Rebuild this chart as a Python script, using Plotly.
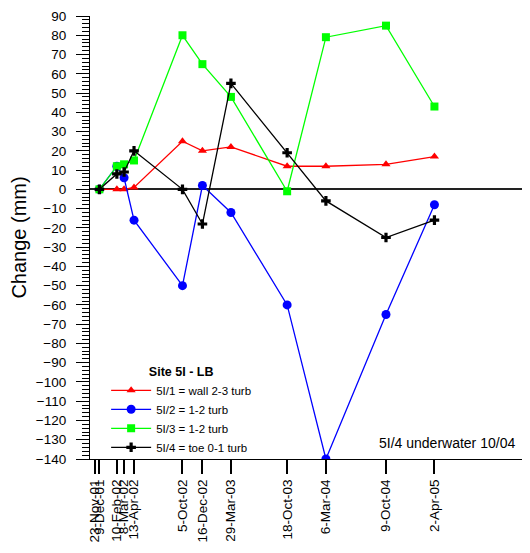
import plotly.graph_objects as go

tick_dates = ["2001-11-23", "2001-12-09", "2002-02-10", "2002-03-08", "2002-04-13",
              "2002-10-05", "2002-12-16", "2003-03-29", "2003-10-18", "2004-03-06",
              "2004-10-09", "2005-04-02"]
tick_labels = ["23-Nov-01", "9-Dec-01", "10-Feb-02", "8-Mar-02", "13-Apr-02",
               "5-Oct-02", "16-Dec-02", "29-Mar-03", "18-Oct-03", "6-Mar-04",
               "9-Oct-04", "2-Apr-05"]

survey_dates = ["2001-12-09", "2002-02-10", "2002-03-08", "2002-04-13", "2002-10-05",
                "2002-12-16", "2003-03-29", "2003-10-18", "2004-03-06", "2004-10-09",
                "2005-04-02"]

s1_wall = [0, 0, 0, 1, 25, 20, 22, 12, 12, 13, 17]
s2 = [0, 12, 6, -16, -50, 2, -12, -60, -140, -65, -8]
s3 = [0, 12, 13, 15, 80, 65, 48, -1, 79, 85, 43]
s4_toe = [0, 8, 9, 20, 0, -18, 55, 19, -6, -25, -16]

series_names = ["5I/1 = wall 2-3 turb", "5I/2 = 1-2 turb", "5I/3 = 1-2 turb", "5I/4 = toe 0-1 turb"]

FONT = "Liberation Sans, Arial, sans-serif"

fig = go.Figure()
styles = [
    (s1_wall, "#ff0000", "triangle-up", 8),
    (s2, "#0000ff", "circle", 9),
    (s3, "#00ff00", "square", 8),
    (s4_toe, "#000000", "cross", 8),
]
for (vals, col, sym, sz), name in zip(styles, series_names):
    fig.add_trace(go.Scatter(
        x=survey_dates, y=vals, name=name, mode="lines+markers",
        line=dict(color=col, width=1.3),
        marker=dict(color=col, symbol=sym, size=sz, line=dict(width=0)),
    ))

fig.update_layout(
    width=530, height=553,
    margin=dict(l=82, r=0, t=8, b=102, autoexpand=False),
    paper_bgcolor="white", plot_bgcolor="white",
    font=dict(family=FONT, color="black", size=13.5),
    showlegend=True,
    legend=dict(
        x=0.036, y=-0.008, xanchor="left", yanchor="bottom",
        bgcolor="rgba(0,0,0,0)",
        font=dict(size=11.5, family=FONT),
        title=dict(text="<b>Site 5I - LB</b>", side="top center", font=dict(size=12.5, family=FONT)),
        tracegroupgap=0, itemwidth=40,
    ),
    annotations=[dict(
        text="5I/4 underwater 10/04", xref="paper", yref="paper",
        x=0.953, y=0.036, xanchor="right", yanchor="middle",
        showarrow=False, font=dict(size=14, family=FONT),
    )],
)

fig.update_xaxes(
    type="date", automargin=False,
    range=["2001-11-05", "2006-04-11"],
    tickmode="array", tickvals=tick_dates, ticktext=tick_labels,
    tickangle=-90, ticks="outside", ticklen=14, tickwidth=1.5, tickcolor="black",
    showline=True, linecolor="black", linewidth=1.2,
    showgrid=False, zeroline=False,
    tickfont=dict(size=13.5, family=FONT),
)
fig.update_yaxes(
    range=[-140, 90], dtick=10, tick0=0, automargin=False,
    ticks="outside", ticklen=13, tickwidth=1, tickcolor="black",
    ticklabelstandoff=7,
    minor=dict(dtick=2, ticks="outside", ticklen=7, tickcolor="black", tickwidth=1),
    showline=True, linecolor="black", linewidth=1.2,
    showgrid=False, zeroline=True, zerolinecolor="#222222", zerolinewidth=1.5,
    title=dict(text="Change (mm)", font=dict(size=20, family=FONT), standoff=4),
    tickfont=dict(size=13.5, family=FONT),
)

fig.write_html("out.html")
